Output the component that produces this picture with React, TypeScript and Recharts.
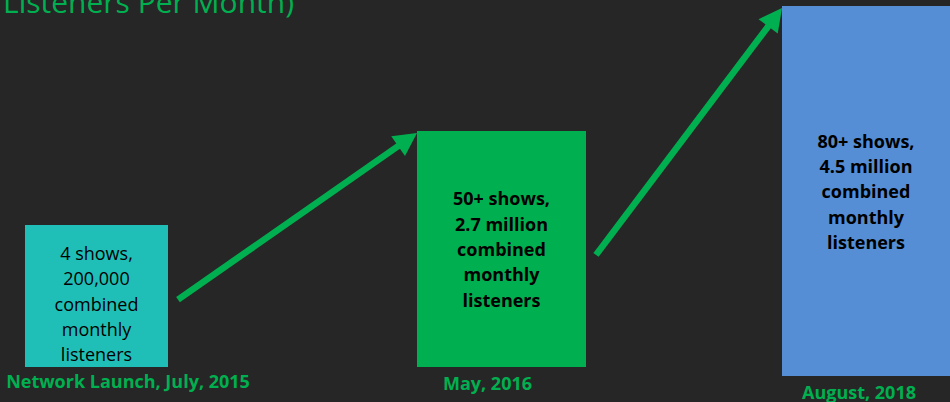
import React from 'react';
import { ComposedChart, Bar, XAxis, YAxis } from 'recharts';

// ---- data ----
const categories = ['Network Launch, July, 2015', 'May, 2016', 'August, 2018'];
const barBase = [35, 35, 26];
const barTop = [177, 271, 396];
const barLines = [
  ['4 shows,', '200,000', 'combined', 'monthly', 'listeners'],
  ['50+ shows,', '2.7 million', 'combined', 'monthly', 'listeners'],
  ['80+ shows,', '4.5 million', 'combined', 'monthly', 'listeners'],
];
const titleText = 'Listeners Per Month)';

// ---- styles ----
const BG = '#262626';
const GREEN = '#00B050';
const barColors = ['#1FBFB8', '#00B050', '#558ED5'];
const barWidths = [143, 169, 168];
const barShift = [-7, 13, -7.5];
const textBold = [false, true, true];
const textBaselineShift = [14.5, 7, 7.3];
const lineHeight = 25.4;
const labelShift = [31.5, -14, -7];
const labelBaseline = [20.7, 23, 22.5];
const FONT = '"Open Sans", "Noto Sans", sans-serif';

const data = categories.map((c, i) => ({
  category: c,
  range: [barBase[i], barTop[i]],
  lines: barLines[i],
}));

const geom: Record<number, { x: number; y: number; w: number; h: number }> = {};

function Arrow({ x1, y1, x2, y2 }: { x1: number; y1: number; x2: number; y2: number }) {
  const dx = x2 - x1;
  const dy = y2 - y1;
  const len = Math.hypot(dx, dy) || 1;
  const ux = dx / len;
  const uy = dy / len;
  const headL = 23;
  const headW = 24;
  const bx = x2 - ux * headL;
  const by = y2 - uy * headL;
  const px = -uy;
  const py = ux;
  return (
    <g>
      <line x1={x1} y1={y1} x2={bx + ux * 3} y2={by + uy * 3} stroke={GREEN} strokeWidth={6.5} />
      <polygon
        points={`${x2},${y2} ${bx + (px * headW) / 2},${by + (py * headW) / 2} ${bx - (px * headW) / 2},${by - (py * headW) / 2}`}
        fill={GREEN}
      />
    </g>
  );
}

function BarShape(props: any) {
  const { x, y, width, height, index, payload } = props;
  const top = Math.min(y, y + height);
  const h = Math.abs(height);
  const cx = x + width / 2 + barShift[index];
  const w = barWidths[index];
  const left = cx - w / 2;
  geom[index] = { x: left, y: top, w, h };
  const prev = geom[index - 1];
  const mid = top + h / 2;
  const lines: string[] = payload.lines;
  return (
    <g>
      <rect x={left} y={top} width={w} height={h} fill={barColors[index]} />
      {lines.map((t, k) => (
        <text
          key={k}
          x={cx}
          y={mid + textBaselineShift[index] + (k - 2) * lineHeight}
          textAnchor="middle"
          fontFamily={FONT}
          fontSize={18}
          fontWeight={textBold[index] ? 700 : 400}
          fill="#000"
        >
          {t}
        </text>
      ))}
      <text
        x={cx + labelShift[index]}
        y={top + h + labelBaseline[index]}
        textAnchor="middle"
        fontFamily={FONT}
        fontSize={18}
        fontWeight={700}
        fill={GREEN}
      >
        {payload.category}
      </text>
      {prev && index > 0 ? (
        <Arrow x1={prev.x + prev.w + 10} y1={prev.y + prev.h * 0.525} x2={left} y2={top + 2} />
      ) : null}
    </g>
  );
}

export default function App() {
  return (
    <div
      style={{
        position: 'absolute',
        left: 0,
        top: 0,
        width: 950,
        height: 402,
        overflow: 'hidden',
        background: BG,
      }}
    >
      <div style={{ position: 'absolute', left: -89, top: 0 }}>
        <ComposedChart width={1155} height={402} data={data} margin={{ top: 0, right: 0, bottom: 0, left: 0 }}>
          <XAxis dataKey="category" hide />
          <YAxis type="number" domain={[0, 402]} hide allowDataOverflow />
          <Bar dataKey="range" isAnimationActive={false} shape={BarShape} />
        </ComposedChart>
      </div>
      <svg width={950} height={40} style={{ position: 'absolute', left: 0, top: 0 }}>
        <text x={3} y={13} fontFamily={FONT} fontSize={30} fill={GREEN}>
          {titleText}
        </text>
      </svg>
    </div>
  );
}
